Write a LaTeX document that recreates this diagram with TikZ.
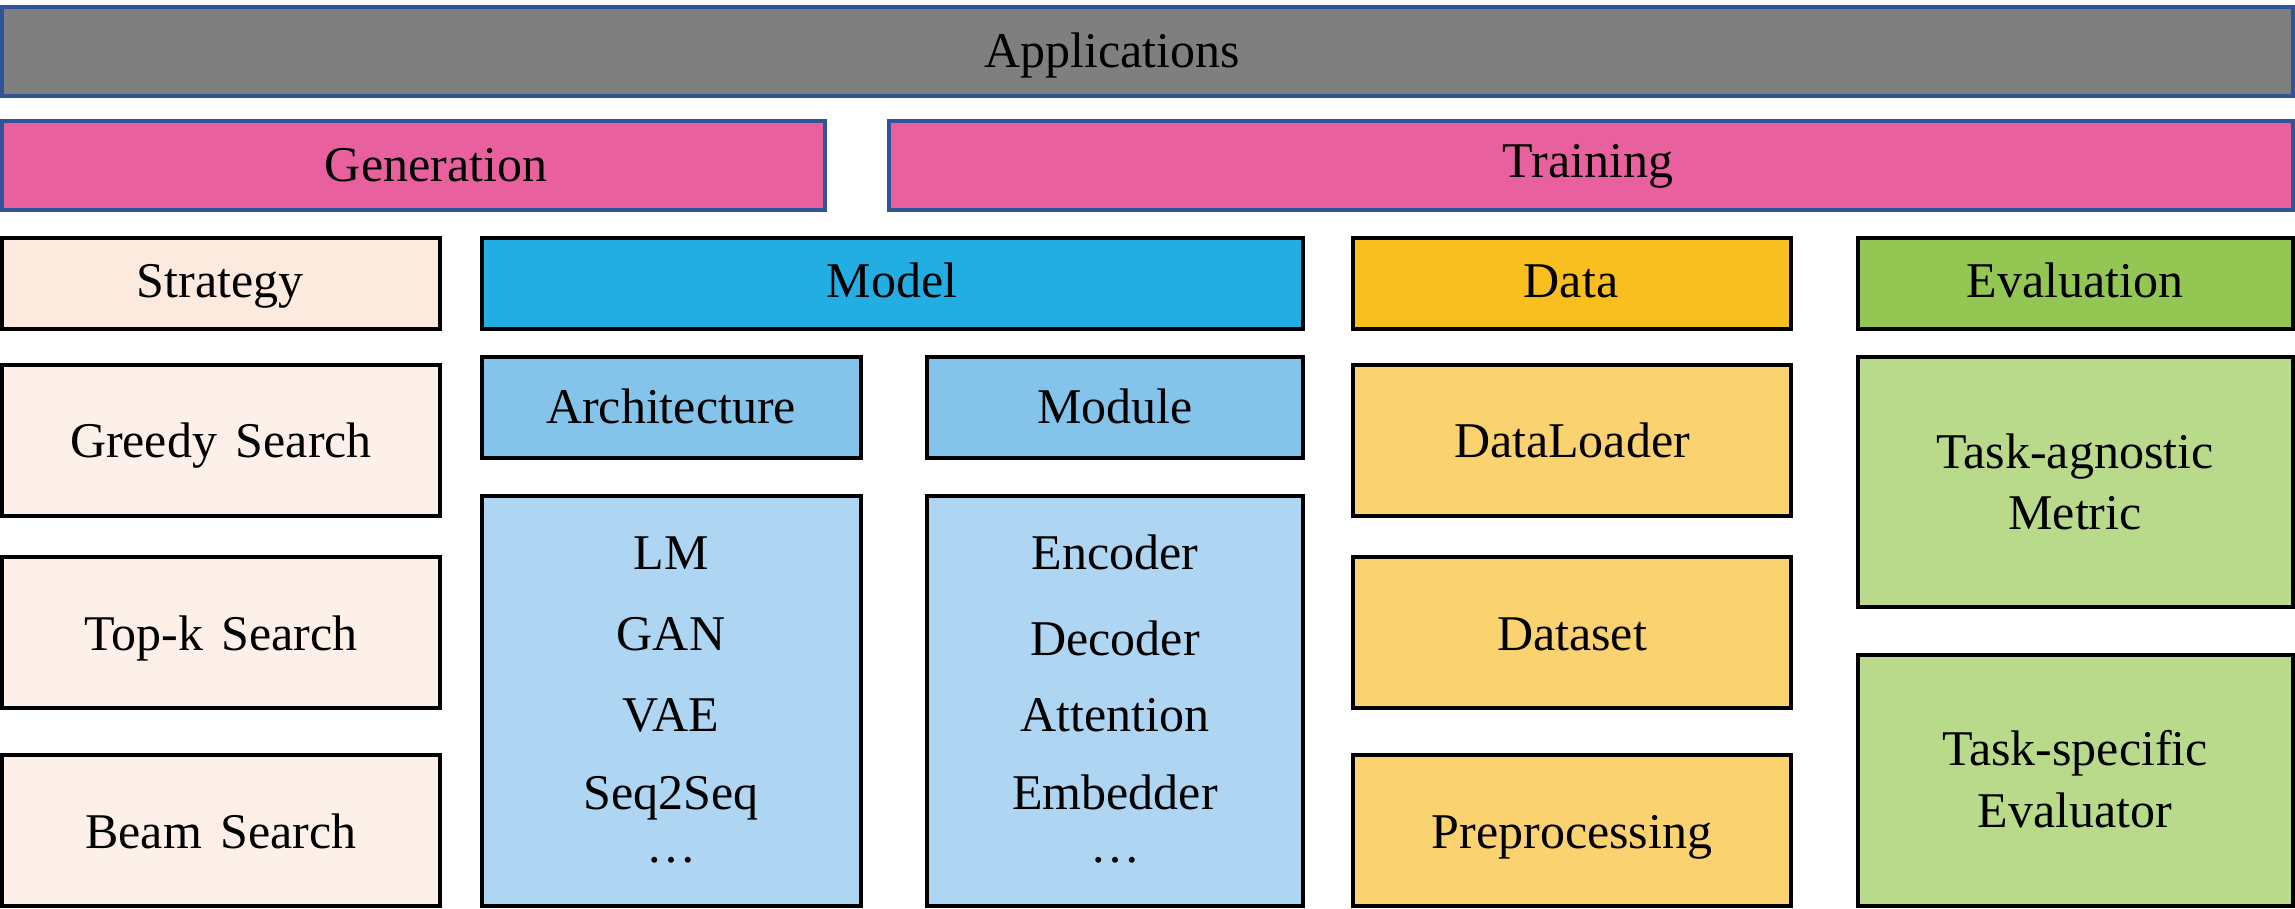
\documentclass[tikz,border=0pt]{standalone}
\usepackage{fontspec}
\setmainfont[WordSpace=1.5]{Liberation Serif}
\definecolor{appfill}{HTML}{7F7F7F}
\definecolor{blueline}{HTML}{2F5597}
\definecolor{pinkfill}{HTML}{E8619E}
\definecolor{stratHead}{HTML}{FCEADE}
\definecolor{stratItem}{HTML}{FDF0E8}
\definecolor{modelHead}{HTML}{22ADE3}
\definecolor{modelSub}{HTML}{85C4EA}
\definecolor{modelItem}{HTML}{AED5F1}
\definecolor{dataHead}{HTML}{F9BF1E}
\definecolor{dataItem}{HTML}{FAD270}
\definecolor{evalHead}{HTML}{93C653}
\definecolor{evalItem}{HTML}{B9D98B}
\tikzset{
  topbox/.style={draw=blueline, line width=1pt, rectangle, inner sep=0pt, outer sep=0pt},
  lowbox/.style={draw=black, line width=1pt, rectangle, inner sep=0pt, outer sep=0pt},
  txt/.style={anchor=base, inner sep=0pt, outer sep=0pt, font=\fontsize{12.5}{15}\selectfont, text=black}
}
\newcommand\bx[6]{\node[#2, minimum width={(#5-#3)*0.25pt}, minimum height={(#6-#4)*0.25pt}] (#1) at ({(#3+#5)/2},{(#4+#6)/2}) {};}
\newcommand\tx[4]{\node[txt] (#1) at (#2,#3) {#4};}
\begin{document}
\begin{tikzpicture}[x=0.25pt,y=-0.25pt]
\useasboundingbox (0,0) rectangle (2295,909);
% top layers
\bx{app}{topbox, fill=appfill}{2}{7}{2293}{96}
\bx{gen}{topbox, fill=pinkfill}{2}{121}{825}{210}
\bx{trn}{topbox, fill=pinkfill}{889}{121}{2293}{210}
% headers
\bx{strat}{lowbox, fill=stratHead}{2}{238}{440}{329}
\bx{model}{lowbox, fill=modelHead}{482}{238}{1303}{329}
\bx{data}{lowbox, fill=dataHead}{1353}{238}{1791}{329}
\bx{eval}{lowbox, fill=evalHead}{1858}{238}{2293}{329}
% strategy items
\bx{greedy}{lowbox, fill=stratItem}{2}{365}{440}{516}
\bx{topk}{lowbox, fill=stratItem}{2}{557}{440}{708}
\bx{beam}{lowbox, fill=stratItem}{2}{755}{440}{906}
% model items
\bx{arch}{lowbox, fill=modelSub}{482}{357}{861}{458}
\bx{module}{lowbox, fill=modelSub}{927}{357}{1303}{458}
\bx{archlist}{lowbox, fill=modelItem}{482}{496}{861}{906}
\bx{modlist}{lowbox, fill=modelItem}{927}{496}{1303}{906}
% data items
\bx{loader}{lowbox, fill=dataItem}{1353}{365}{1791}{516}
\bx{dataset}{lowbox, fill=dataItem}{1353}{557}{1791}{708}
\bx{prep}{lowbox, fill=dataItem}{1353}{755}{1791}{906}
% evaluation items
\bx{agn}{lowbox, fill=evalItem}{1858}{357}{2293}{607}
\bx{spec}{lowbox, fill=evalItem}{1858}{655}{2293}{906}
% texts
\tx{tapp}{1112}{68}{Applications}
\tx{tgen}{436}{182}{Generation}
\tx{ttrn}{1588}{178}{Training}
\tx{tstrat}{220}{298}{Strategy}
\tx{tmodel}{892}{298}{Model}
\tx{tdata}{1571}{298}{Data}
\tx{teval}{2075}{298}{Evaluation}
\tx{tgreedy}{221}{457}{Greedy Search}
\tx{ttopk}{221}{650}{Top-k Search}
\tx{tbeam}{221}{848}{Beam Search}
\tx{tarch}{671}{424}{Architecture}
\tx{tmodule}{1115}{424}{Module}
\tx{tlm}{671}{570}{LM}
\tx{tgan}{671}{650}{GAN}
\tx{tvae}{671}{731}{VAE}
\tx{tseq}{671}{809}{Seq2Seq}
\tx{tadots}{671}{862}{…}
\tx{tenc}{1115}{570}{Encoder}
\tx{tdec}{1115}{656}{Decoder}
\tx{tatt}{1115}{731}{Attention}
\tx{temb}{1115}{809}{Embedder}
\tx{tmdots}{1115}{862}{…}
\tx{tloader}{1572}{457}{DataLoader}
\tx{tdataset}{1572}{650}{Dataset}
\tx{tprep}{1572}{848}{Preprocessing}
\tx{tagn}{2075}{469}{Task-agnostic}
\tx{tmetric}{2075}{529}{Metric}
\tx{tspec}{2075}{765}{Task-specific}
\tx{tevalr}{2075}{827}{Evaluator}
\end{tikzpicture}
\end{document}
